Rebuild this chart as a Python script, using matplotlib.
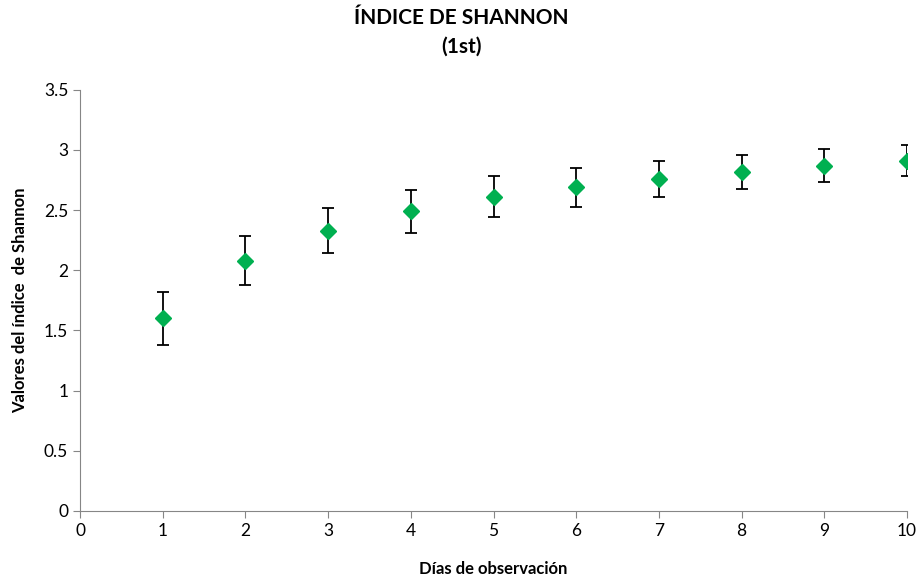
import matplotlib.pyplot as plt

dias = [1, 2, 3, 4, 5, 6, 7, 8, 9, 10]
shannon = [1.60, 2.08, 2.33, 2.49, 2.61, 2.69, 2.76, 2.82, 2.87, 2.91]
error = [0.22, 0.205, 0.19, 0.18, 0.17, 0.16, 0.152, 0.142, 0.14, 0.128]
yticks = [0, 0.5, 1, 1.5, 2, 2.5, 3, 3.5]
ytick_labels = ['0', '0.5', '1', '1.5', '2', '2.5', '3', '3.5']

plt.rcParams['font.family'] = ['Lato', 'DejaVu Sans']

fig = plt.figure(figsize=(9.22, 5.82), dpi=100)
ax = fig.add_axes([0.0868, 0.122, 0.8969, 0.7237])

ax.errorbar(dias, shannon, yerr=error, fmt='D', color='#00B050', markersize=8.5,
            ecolor='black', elinewidth=1.3, capsize=4, capthick=1.3, zorder=3)

ax.set_xlim(0, 10)
ax.set_ylim(0, 3.5)
ax.set_xticks(range(0, 11))
ax.set_yticks(yticks)
ax.set_yticklabels(ytick_labels)

for s in ['top', 'right']:
    ax.spines[s].set_visible(False)
for s in ['left', 'bottom']:
    ax.spines[s].set_color('#868686')
ax.tick_params(direction='out', length=5, color='#868686', labelsize=12.5, labelcolor='black')

ax.set_xlabel('Días de observación', fontsize=12, fontweight='bold', labelpad=16)
ax.set_ylabel('Valores del índice  de Shannon', fontsize=12, fontweight='bold', labelpad=11)
fig.suptitle('ÍNDICE DE SHANNON\n(1st)', x=0.5, y=0.987, fontsize=15, fontweight='bold',
             linespacing=1.55)

fig.savefig('out.png', dpi=100)
